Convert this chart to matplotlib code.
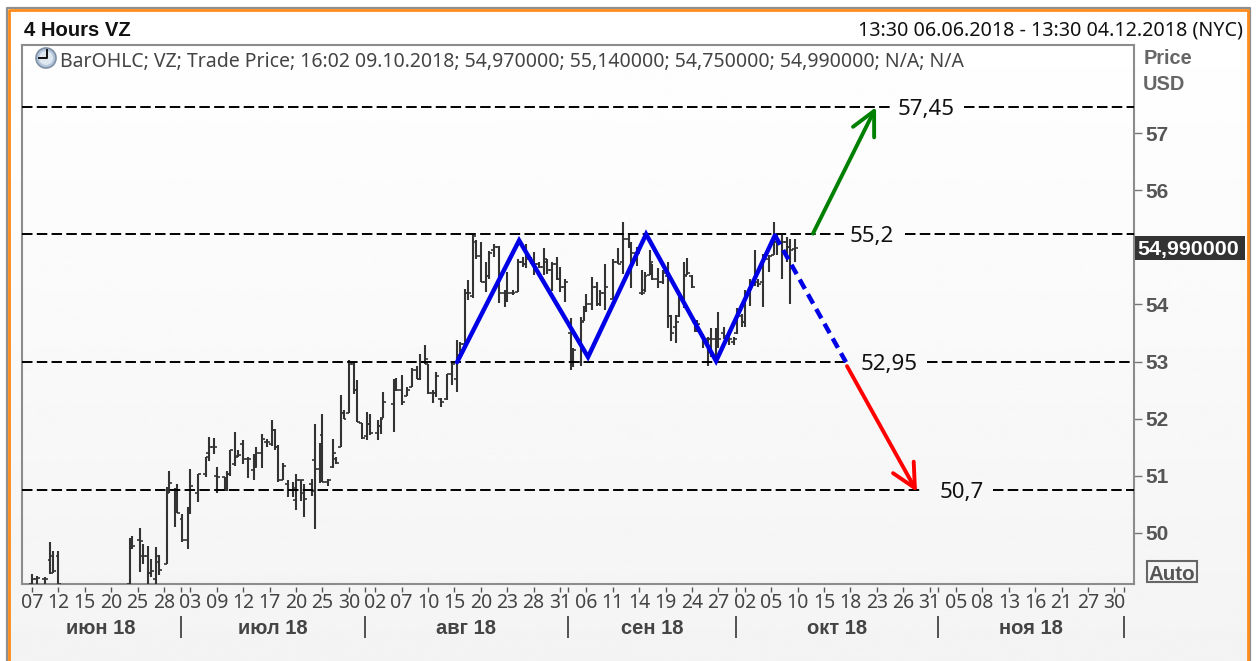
import numpy as np
import matplotlib
matplotlib.use("Agg")
import matplotlib.pyplot as plt
from matplotlib.patches import Circle, Rectangle

plt.rcParams['font.family'] = ['Noto Sans', 'DejaVu Sans']
BOLD = ['Liberation Sans', 'DejaVu Sans']

title = "4 Hours VZ"
period = "13:30 06.06.2018 - 13:30 04.12.2018 (NYC)"
legend_text = "BarOHLC; VZ; Trade Price; 16:02 09.10.2018; 54,970000; 55,140000; 54,750000; 54,990000; N/A; N/A"
last_price = "54,990000"

bar_idx = [0,2,5,7,8,10,37,38,41,42,44,45,47,48,51,52,54,55,57,59,60,63,66,67,69,70,73,74,75,77,78,80,82,84,85,87,89,91,92,93,95,97,99,100,102,103,106,107,109,110,112,114,115,117,118,120,
 122,123,125,127,128,131,132,133,137,138,140,142,144,146,147,149,150,152,153,155,157,159,161,162,164,165,167,168,170,172,173,175,177,179,180,182,184,186,187,189,190,192,194,195,197,199,200,202,
 204,205,208,209,210,212,214,215,217,220,222,224,226,227,229,231,232,234,235,237,239,241,242,244,245,247,248,250,251,252,254,256,257,259,260,262,264,266,267,269,270,272,274,275,277,279,281,282,284,286,287,289]
bar_high = [49.29,49.24,49.23,49.84,49.69,49.69,49.91,49.95,50.08,49.80,49.78,49.55,49.76,49.62,50.81,51.09,50.79,50.86,50.33,50.45,51.12,51.03,51.33,51.68,51.66,51.15,50.98,51.09,51.46,51.77,51.45,51.63,51.33,51.39,51.5,51.74,51.65,51.97,51.82,51.54,51.22,50.93,50.9,51.04,50.93,50.85,50.95,51.9,51.57,52.09,50.95,51.65,51.33,52.41,52.15,53.02,
 53.0,52.67,51.93,52.12,52.09,51.97,52.02,52.47,52.70,52.72,52.76,52.56,52.88,52.92,53.13,53.29,52.95,52.5,52.81,52.37,52.79,52.97,53.37,53.35,54.27,54.42,55.21,55.12,55.09,54.74,54.93,55.05,55.03,54.25,54.57,54.25,54.8,54.83,55.06,54.83,54.92,54.74,54.98,54.79,54.74,54.83,54.66,54.45,
 53.76,53.23,53.78,53.98,54.19,54.48,54.39,54.25,54.7,54.8,54.98,55.44,55.21,55.09,55.0,54.6,54.57,54.95,54.71,54.63,54.6,54.74,53.81,53.81,54.13,54.74,54.81,54.51,53.72,53.72,53.49,53.43,53.58,53.58,53.87,53.6,53.55,53.43,53.93,53.84,54.25,54.45,54.95,54.45,54.89,54.86,55.44,55.21,55.21,55.18,55.15,55.14]
bar_low = [49.0,49.0,49.0,49.29,49.3,49.0,49.0,49.72,49.32,49.46,49.0,49.23,49.0,49.27,49.46,50.7,50.1,50.35,49.84,49.72,50.33,50.54,50.98,51.26,51.38,50.7,50.73,50.74,51.0,51.17,51.33,51.2,50.96,50.93,51.16,51.13,51.5,51.52,51.45,50.9,50.93,50.63,50.63,50.4,50.56,50.28,50.65,50.07,50.87,50.9,50.83,51.13,51.2,51.5,52.0,52.1,
 52.43,51.95,51.65,51.62,51.71,51.62,51.74,52.02,51.77,52.49,52.24,52.39,52.56,52.69,52.67,52.95,52.43,52.28,52.38,52.21,52.33,52.59,52.47,53.11,53.23,54.07,54.11,54.8,54.39,54.21,54.45,54.83,54.03,53.96,54.04,54.16,54.21,54.66,54.64,54.71,54.51,54.63,54.51,54.54,54.23,54.42,54.22,54.05,
 52.86,52.9,52.93,53.71,53.87,53.9,53.98,53.98,53.9,54.1,54.7,54.54,54.98,54.28,54.68,54.17,54.21,54.51,54.42,54.29,54.36,53.58,53.36,53.33,53.78,53.93,54.51,54.28,53.52,53.52,53.23,52.93,53.08,53.0,53.23,53.4,53.29,53.29,53.49,53.6,53.6,53.98,54.33,54.3,53.96,54.57,54.86,54.86,54.45,54.74,54.01,54.75]
bar_open = [49.1,49.2,49.2,49.52,49.6,49.6,49.1,49.9,49.88,49.6,49.6,49.3,49.2,49.5,49.46,50.7,50.75,50.75,50.25,49.88,50.4,50.7,51.03,51.4,51.5,51.0,50.98,50.75,51.04,51.2,51.35,51.55,51.3,51.1,51.15,51.4,51.6,51.55,51.8,51.5,50.93,50.85,50.75,50.57,50.93,50.7,50.85,51.28,51.12,51.71,50.9,51.15,51.3,51.5,52.1,52.1,
 52.95,52.5,51.93,51.7,51.9,51.75,51.88,52.02,52.25,52.65,52.5,52.4,52.56,52.85,52.7,52.99,52.95,52.45,52.45,52.35,52.35,52.78,52.7,53.11,53.3,54.2,54.15,55.1,54.85,54.4,54.5,54.95,55.0,54.2,54.1,54.2,54.21,54.75,54.7,54.8,54.75,54.7,54.65,54.75,54.6,54.7,54.45,54.3,
 53.5,53.0,53.0,53.71,53.9,54.0,54.3,54.0,54.2,54.1,54.75,54.75,55.15,55.0,54.9,54.2,54.25,54.51,54.7,54.45,54.4,54.5,53.8,53.6,53.8,54.1,54.51,54.5,53.7,53.6,53.45,53.4,53.4,53.4,53.3,53.5,53.45,53.35,53.5,53.8,53.7,54.2,54.4,54.4,54.4,54.8,54.86,55.1,55.1,55.1,55.0,54.97]
bar_close = [49.2,49.22,49.2,49.3,49.33,49.1,49.88,49.78,49.86,49.6,49.3,49.33,49.6,49.35,50.78,50.88,50.75,50.35,49.88,50.42,50.82,51.03,51.33,51.5,51.5,50.98,50.78,51.04,51.45,51.33,51.36,51.3,51.3,51.15,51.4,51.65,51.6,51.8,51.5,50.93,51.18,50.75,50.78,50.93,50.93,50.6,50.73,51.12,51.5,50.9,50.92,51.4,51.22,52.1,52.0,52.95,
 52.5,51.95,51.66,51.9,51.75,51.88,52.0,52.3,52.65,52.5,52.3,52.5,52.85,52.7,52.99,53.05,52.45,52.45,52.75,52.3,52.78,52.95,53.0,53.3,54.2,54.2,55.2,54.85,54.4,54.5,54.9,55.0,54.2,54.1,54.2,54.2,54.75,54.7,54.8,54.75,54.7,54.65,54.8,54.6,54.7,54.45,54.3,54.4,
 52.95,53.2,53.7,53.9,54.0,54.3,54.0,54.2,54.3,54.75,54.7,55.15,55.0,54.9,54.9,54.2,54.5,54.75,54.45,54.4,54.55,53.8,53.5,53.7,54.1,54.5,54.55,54.3,53.6,53.65,53.4,53.4,53.4,53.1,53.4,53.45,53.4,53.4,53.85,53.7,54.2,54.4,54.5,54.35,54.8,54.85,55.1,55.1,55.1,55.0,54.95,54.99]
assert len(bar_idx) == len(bar_high) == len(bar_low) == len(bar_open) == len(bar_close)

level_values = [57.455, 55.24, 52.99, 50.75]
level_labels = ["57,45", "55,2", "52,95", "50,7"]
level_label_idx = [338.6, 318.2, 324.6, 352.3]
level_gap_start = [325.4, 307.6, 309.6, 337.1]
level_gap_end = [353.0, 330.7, 339.0, 364.0]

zigzag_idx = [161, 184.5, 210.6, 232.6, 259.1, 281.4]
zigzag_price = [52.99, 55.12, 53.08, 55.23, 53.01, 55.21]
projection_idx = [281.4, 308.3]
projection_price = [55.21, 52.99]
up_arrow_idx = [295.8, 319.7]
up_arrow_price = [55.24, 57.455]
down_arrow_idx = [308.7, 335.2]
down_arrow_price = [52.92, 50.72]

tick_days = ["07","12","15","20","25","28","03","09","12","17","20","25","30","02","07","10","15","20","23","28","31","06","11","14","19","24","27","02","05","10","15","18","23","26","31","05","08","13","16","21","27","30"]
tick_idx = [10 * i for i in range(len(tick_days))]
month_names = ["июн 18", "июл 18", "авг 18", "сен 18", "окт 18", "ноя 18"]
month_edges = [-4.0, 56.4, 126.1, 203.0, 266.7, 343.3, 413.6]
price_ticks = [50, 51, 52, 53, 54, 56, 57]  # 55 sits under the last-price box

W, H = 1256, 661
fig = plt.figure(figsize=(W / 100, H / 100), dpi=100, facecolor="white")

# Background gradient and window frame, in pixel coordinates
bg = fig.add_axes([0, 0, 1, 1], zorder=0)
bg.set_xlim(0, W); bg.set_ylim(H, 0); bg.axis("off")
grad = np.linspace(1.0, 0.955, 256).reshape(-1, 1)
bg.imshow(grad, extent=(8, 1249, H, 9), aspect="auto", cmap="gray", vmin=0, vmax=1, zorder=0)
bg.set_xlim(0, W); bg.set_ylim(H, 0)
bg.plot([7, 7, 1250, 1250], [H, 8, 8, H], color="#8f8f8f", lw=1.6, zorder=1)
bg.plot([9, 9, 1248, 1248], [H, 10, 10, H], color="#ff8c1a", lw=2.0, zorder=2)

ax = fig.add_axes([21.5 / W, (H - 583.5) / H, (1134 - 21.5) / W, (583.5 - 44.5) / H], zorder=1)
ax.patch.set_alpha(0)
ax.set_xlim(-3.98, 417.4)
ax.set_ylim(49.116, 58.55)
for s in ax.spines.values():
    s.set_color("#8c8c8c"); s.set_linewidth(1.5)

# Levels with a gap around each label
for v, lab, lx, g0, g1 in zip(level_values, level_labels, level_label_idx, level_gap_start, level_gap_end):
    for a, b in ((ax.get_xlim()[0], g0), (g1, ax.get_xlim()[1])):
        ax.plot([a, b], [v, v], color="black", lw=1.4, dashes=(5.4, 2.2), zorder=4)
    ax.text(lx, v, lab, ha="center", va="center_baseline", fontsize=16, color="#111111", zorder=6)

# OHLC bars
idx = np.array(bar_idx, dtype=float)
bar_c = "#333333"
ax.vlines(idx, bar_low, bar_high, color=bar_c, lw=1.5, zorder=3)
ax.hlines(bar_open, idx - 1.1, idx, color=bar_c, lw=1.2, zorder=3)
ax.hlines(bar_close, idx, idx + 1.1, color=bar_c, lw=1.2, zorder=3)

# Pattern
ax.plot(zigzag_idx, zigzag_price, color="#0000e6", lw=3.2, solid_capstyle="round", solid_joinstyle="miter", zorder=5)
ax.plot(projection_idx, projection_price, color="#0000e6", lw=3.2, dashes=(2.4, 1.4), zorder=5)
ax.annotate("", xy=(up_arrow_idx[1], up_arrow_price[1]), xytext=(up_arrow_idx[0], up_arrow_price[0]),
            arrowprops=dict(arrowstyle="->,head_length=1.7,head_width=0.85", mutation_scale=10,
                            color="#008000", lw=2.8, shrinkA=0, shrinkB=0), zorder=6)
ax.annotate("", xy=(down_arrow_idx[1], down_arrow_price[1]), xytext=(down_arrow_idx[0], down_arrow_price[0]),
            arrowprops=dict(arrowstyle="->,head_length=1.7,head_width=0.85", mutation_scale=10,
                            color="#ff0000", lw=2.8, shrinkA=0, shrinkB=0), zorder=6)

# Axes ticks
ax.yaxis.tick_right()
ax.set_yticks(price_ticks)
ax.set_yticklabels([str(p) for p in price_ticks], fontsize=15, fontweight="bold", family=BOLD, color="#555555")
ax.tick_params(axis="y", length=5.5, width=1, color="#777777", pad=3)
ax.set_xticks(tick_idx)
ax.set_xticklabels(tick_days, fontsize=14, color="#444444")
ax.tick_params(axis="x", length=0, pad=7)

trans = ax.get_xaxis_transform()
axh = 583.5 - 44.5
ax.vlines(tick_idx + month_edges[1:], -3.5 / axh, -8 / axh, transform=trans, color="#555555", lw=1, clip_on=False)
ax.vlines(month_edges[1:], -32.5 / axh, -54.5 / axh, transform=trans, color="#444444", lw=1.3, clip_on=False)
for name, a, b in zip(month_names, month_edges[:-1], month_edges[1:]):
    ax.text((a + b) / 2, -43.5 / axh, name, transform=trans, ha="center", va="center_baseline",
            fontsize=14.5, fontweight="bold", family=BOLD, color="#444444", clip_on=False)

# Overlay text and furniture in pixels
ov = fig.add_axes([0, 0, 1, 1], zorder=2)
ov.set_xlim(0, W); ov.set_ylim(H, 0); ov.axis("off"); ov.patch.set_alpha(0)
ov.text(24, 28, title, fontsize=14.6, fontweight="bold", family=BOLD, color="#111111", va="center_baseline")
ov.text(1243, 28, period, fontsize=14.2, color="#111111", ha="right", va="center_baseline")
ov.text(60, 60, legend_text, fontsize=14, color="#444444", va="center_baseline")
ov.add_patch(Circle((46, 58), 10, facecolor="#b4c6dc", edgecolor="#7f8fa3", lw=1.2))
ov.add_patch(Circle((46, 58), 7, facecolor="#dfe7f0", edgecolor="none"))
ov.plot([46.5, 46.5, 39], [50, 58, 58], color="#111111", lw=1.4)
ov.text(1144, 57, "Price", fontsize=14.4, fontweight="bold", family=BOLD, color="#666666", va="center_baseline")
ov.text(1143, 83, "USD", fontsize=14.4, fontweight="bold", family=BOLD, color="#666666", va="center_baseline")
ov.add_patch(Rectangle((1135, 236), 110, 24, facecolor="#333333", edgecolor="none"))
ov.text(1137, 248, last_price, fontsize=15.4, fontweight="bold", family=BOLD, color="white", va="center_baseline")
ov.add_patch(Rectangle((1146.5, 560.5), 50, 21.5, facecolor="none", edgecolor="#666666", lw=1.5))
ov.text(1171.5, 572, "Auto", fontsize=14.8, fontweight="bold", family=BOLD, color="#555555", ha="center", va="center_baseline")

fig.savefig("out.png", dpi=100)
